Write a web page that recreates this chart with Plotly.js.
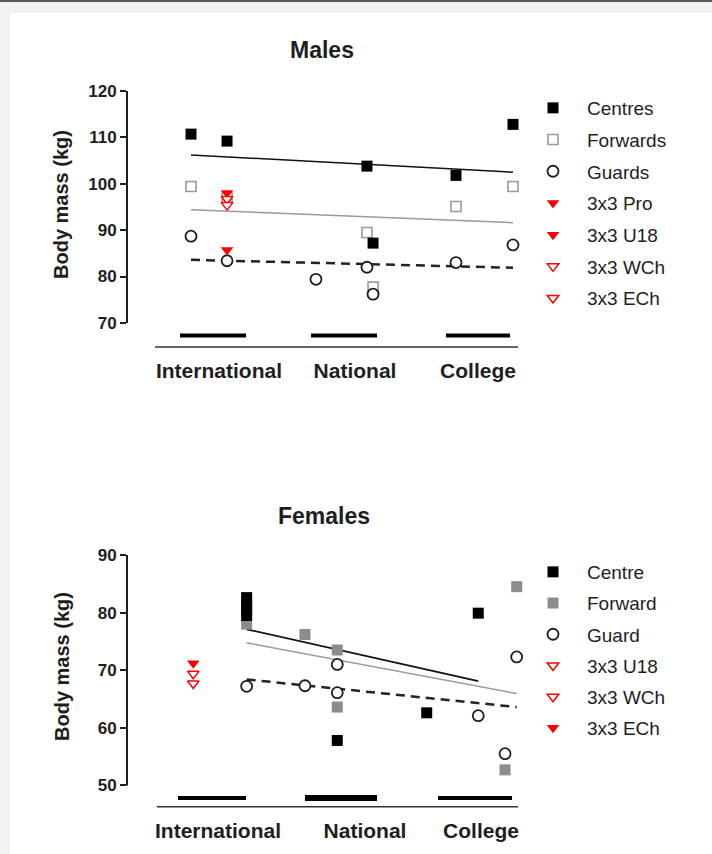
<!DOCTYPE html>
<html>
<head>
<meta charset="utf-8">
<script src="https://cdn.plot.ly/plotly-3.0.1.min.js"></script>
<style>html,body{margin:0;padding:0;background:#fff;}#chart{width:712px;height:854px;}</style>
</head>
<body>
<div id="chart"></div>
<script>
// ---------------- DATA ----------------
const levelLabels = ["International", "National", "College"];
const groupStart = [0.751, 1.740, 2.758];
const groupEnd   = [1.249, 2.238, 3.242];
const groupStartF = [0.736, 1.694, 2.698];
const groupEndF   = [1.249, 2.238, 3.257];

// Males
const mCentresX  = [0.834, 1.106, 2.162, 2.208, 2.834, 3.264];
const mCentresY  = [110.7, 109.2, 103.8, 87.2, 101.8, 112.8];
const mForwardsX = [0.834, 1.106, 2.162, 2.208, 2.834, 3.264];
const mForwardsY = [99.4, 96.9, 89.5, 77.7, 95.1, 99.4];
const mGuardsX   = [0.834, 1.106, 1.777, 2.162, 2.208, 2.834, 3.264];
const mGuardsY   = [88.7, 83.4, 79.4, 82.0, 76.2, 83.0, 86.8];
const m3x3ProX = [1.106], m3x3ProY = [98.0];
const m3x3U18X = [1.106], m3x3U18Y = [85.7];
const m3x3WChX = [1.106], m3x3WChY = [96.7];
const m3x3EChX = [1.106], m3x3EChY = [95.4];
const mTrendX = [0.834, 3.264];
const mTrendCentresY  = [106.2, 102.5];
const mTrendForwardsY = [94.4, 91.6];
const mTrendGuardsY   = [83.6, 81.9];

// Females
const fCentreX  = [1.254, 1.254, 1.254, 1.254, 1.938, 2.613, 3.002];
const fCentreY  = [82.6, 81.5, 80.5, 79.5, 57.8, 62.6, 79.9];
const fForwardX = [1.254, 1.694, 1.938, 1.938, 3.204, 3.292];
const fForwardY = [78.0, 76.2, 73.5, 63.6, 52.7, 84.5];
const fGuardX   = [1.254, 1.694, 1.938, 1.938, 3.002, 3.204, 3.292];
const fGuardY   = [67.2, 67.3, 71.0, 66.1, 62.1, 55.5, 72.3];
const f3x3U18X = [0.851], f3x3U18Y = [69.4];
const f3x3WChX = [0.851], f3x3WChY = [67.7];
const f3x3EChX = [0.851], f3x3EChY = [71.2];
const fTrendCentreX  = [1.254, 3.002];
const fTrendCentreY  = [77.1, 68.1];
const fTrendForwardX = [1.254, 3.292];
const fTrendForwardY = [74.75, 65.95];
const fTrendGuardX   = [1.254, 3.292];
const fTrendGuardY   = [68.4, 63.6];

// ---------------- LAYOUT HELPERS ----------------
const W = 712, H = 854;
const px = v => v / W;
const py = v => 1 - v / H;
const FONT = "Liberation Sans, Arial, Helvetica, sans-serif";
const INK = "#1e1e1e";
const RED = "#ff0000";
const GREY_OPEN = "#9a9a9a";
const GREY_FILL = "#8c8c8c";

const mBarY = 67.3, fBarY = 47.8;

function pts(x, y, name, marker, xa, ya, legend, group) {
  return {type: "scatter", mode: "markers", x: x, y: y, name: name, marker: marker,
    xaxis: xa, yaxis: ya, legend: legend, legendgroup: group, cliponaxis: false, showlegend: true};
}
function line(x, y, color, width, dash, xa, ya) {
  return {type: "scatter", mode: "lines", x: x, y: y, showlegend: false,
    line: {color: color, width: width, dash: dash || "solid"}, xaxis: xa, yaxis: ya, hoverinfo: "skip"};
}

const sqBlack = {symbol: "square", size: 11, color: "#000"};
const sqOpen  = {symbol: "square", size: 10, color: "#fff", line: {color: GREY_OPEN, width: 1.6}};
const sqGrey  = {symbol: "square", size: 11, color: GREY_FILL};
const circ    = {symbol: "circle", size: 11, color: "#fff", line: {color: INK, width: 1.8}};
const triFill = {symbol: "triangle-down", size: 11, color: RED};
const triOpen = {symbol: "triangle-down", size: 10, color: "#fff", line: {color: RED, width: 1.5}};

const traces = [];
// group bars
for (let i = 0; i < levelLabels.length; i++) {
  traces.push(line([groupStart[i], groupEnd[i]], [mBarY, mBarY], "#000", 4, null, "x", "y"));
}
for (let i = 0; i < levelLabels.length; i++) {
  traces.push(line([groupStartF[i], groupEndF[i]], [fBarY, fBarY], "#000", i === 1 ? 6 : 4, null, "x2", "y2"));
}
// trend lines
traces.push(line(mTrendX, mTrendCentresY, "#111", 1.5, null, "x", "y"));
traces.push(line(mTrendX, mTrendForwardsY, "#9a9a9a", 1.5, null, "x", "y"));
traces.push(line(mTrendX, mTrendGuardsY, "#222", 2.5, "9px,6px", "x", "y"));
traces.push(line(fTrendCentreX, fTrendCentreY, "#111", 1.8, null, "x2", "y2"));
traces.push(line(fTrendForwardX, fTrendForwardY, "#9a9a9a", 1.5, null, "x2", "y2"));
traces.push(line(fTrendGuardX, fTrendGuardY, "#222", 2.5, "9px,6px", "x2", "y2"));

// males points
traces.push(pts(mForwardsX, mForwardsY, "Forwards", sqOpen, "x", "y", "legend", "m2"));
traces.push(pts(mCentresX, mCentresY, "Centres", sqBlack, "x", "y", "legend", "m1"));
traces.push(pts(mGuardsX, mGuardsY, "Guards", circ, "x", "y", "legend", "m3"));
traces.push(pts(m3x3ProX, m3x3ProY, "3x3 Pro", triFill, "x", "y", "legend", "m4"));
traces.push(pts(m3x3U18X, m3x3U18Y, "3x3 U18", triFill, "x", "y", "legend", "m5"));
traces.push(pts(m3x3WChX, m3x3WChY, "3x3 WCh", triOpen, "x", "y", "legend", "m6"));
traces.push(pts(m3x3EChX, m3x3EChY, "3x3 ECh", triOpen, "x", "y", "legend", "m7"));

// females points
traces.push(pts(fForwardX, fForwardY, "Forward", sqGrey, "x2", "y2", "legend2", "f2"));
traces.push(pts(fCentreX, fCentreY, "Centre", sqBlack, "x2", "y2", "legend2", "f1"));
traces.push(pts(fGuardX, fGuardY, "Guard", circ, "x2", "y2", "legend2", "f3"));
traces.push(pts(f3x3U18X, f3x3U18Y, "3x3 U18", triOpen, "x2", "y2", "legend2", "f4"));
traces.push(pts(f3x3WChX, f3x3WChY, "3x3 WCh", triOpen, "x2", "y2", "legend2", "f5"));
traces.push(pts(f3x3EChX, f3x3EChY, "3x3 ECh", triFill, "x2", "y2", "legend2", "f6"));

// legend ranks
const rankMap = {"Centres":1,"Forwards":2,"Guards":3,"3x3 Pro":4,"3x3 U18":5,"3x3 WCh":6,"3x3 ECh":7,
                 "Centre":1,"Forward":2,"Guard":3};
traces.forEach(t => { if (t.showlegend) t.legendrank = rankMap[t.name] || 10; });
traces.forEach(t => { if (t.legend === "legend2") {
  if (t.name === "3x3 U18") t.legendrank = 4;
  if (t.name === "3x3 WCh") t.legendrank = 5;
  if (t.name === "3x3 ECh") t.legendrank = 6;
}});

const xRange = [0.351, 3.317];
const yTickFont = {family: FONT, size: 17, color: INK, weight: "bold"};
const xTickFont = {family: FONT, size: 21, color: INK, weight: "bold"};

function yAxis(domain, range, tickvals) {
  return {domain: domain, range: range, tickvals: tickvals, ticks: "outside", ticklen: 6, tickwidth: 2,
    tickcolor: INK, showline: false, showgrid: false, zeroline: false, tickfont: yTickFont, fixedrange: true};
}
function xAxis(anchor, tickvals) {
  return {domain: [px(127), px(520)], range: xRange, anchor: anchor, tickvals: tickvals, ticktext: levelLabels,
    ticks: "", showline: false, showgrid: false, zeroline: false, tickfont: xTickFont, ticklabelstandoff: 9, fixedrange: true};
}

const legendBase = {xanchor: "left", yanchor: "top", itemwidth: 58, traceorder: "grouped",
  font: {family: FONT, size: 19, color: INK}, bgcolor: "rgba(0,0,0,0)", borderwidth: 0};

const layout = {
  width: W, height: H, margin: {l: 0, r: 0, t: 0, b: 0},
  paper_bgcolor: "#f1f2f4", plot_bgcolor: "rgba(0,0,0,0)",
  font: {family: FONT, color: INK},
  xaxis: xAxis("y", [1.045, 2.072, 3.0]),
  yaxis: yAxis([py(347), py(91)], [64.8, 120], [70, 80, 90, 100, 110, 120]),
  xaxis2: xAxis("y2", [1.038, 2.147, 3.023]),
  yaxis2: yAxis([py(806.7), py(555)], [46.3, 90], [50, 60, 70, 80, 90]),
  legend: Object.assign({x: px(519), y: py(89), tracegroupgap: 4}, legendBase),
  legend2: Object.assign({x: px(519), y: py(553), tracegroupgap: 3.5}, legendBase),
  shapes: [
    {type: "rect", xref: "paper", yref: "paper", x0: px(10), x1: 1, y0: 0, y1: py(13), fillcolor: "#fff", line: {width: 0}, layer: "below"},
    {type: "rect", xref: "paper", yref: "paper", x0: 0, x1: 1, y0: py(2), y1: 1, fillcolor: "#5c5c5c", line: {width: 0}, layer: "below"},
    {type: "line", xref: "paper", yref: "y", x0: px(127), x1: px(127), y0: 70, y1: 120, line: {color: INK, width: 2}},
    {type: "line", xref: "paper", yref: "y2", x0: px(127), x1: px(127), y0: 50, y1: 90, line: {color: INK, width: 2}},
    {type: "line", xref: "x", yref: "paper", x0: 0.562, x1: 3.302, y0: py(347), y1: py(347), line: {color: "#333", width: 1.5}},
    {type: "line", xref: "x2", yref: "paper", x0: 0.577, x1: 3.302, y0: py(806.7), y1: py(806.7), line: {color: "#333", width: 1.5}}
  ],
  annotations: [
    {text: "Males", xref: "paper", yref: "paper", x: px(322), y: py(50), showarrow: false, xanchor: "center", yanchor: "middle",
      font: {family: FONT, size: 23, color: INK, weight: "bold"}},
    {text: "Females", xref: "paper", yref: "paper", x: px(324), y: py(516), showarrow: false, xanchor: "center", yanchor: "middle",
      font: {family: FONT, size: 23, color: INK, weight: "bold"}},
    {text: "Body mass (kg)", xref: "paper", yref: "paper", x: px(61), y: py(205), showarrow: false, textangle: -90,
      xanchor: "center", yanchor: "middle", font: {family: FONT, size: 20, color: INK, weight: "bold"}},
    {text: "Body mass (kg)", xref: "paper", yref: "paper", x: px(62), y: py(667), showarrow: false, textangle: -90,
      xanchor: "center", yanchor: "middle", font: {family: FONT, size: 20, color: INK, weight: "bold"}}
  ]
};

Plotly.newPlot("chart", traces, layout, {staticPlot: true, displayModeBar: false});
</script>
</body>
</html>
